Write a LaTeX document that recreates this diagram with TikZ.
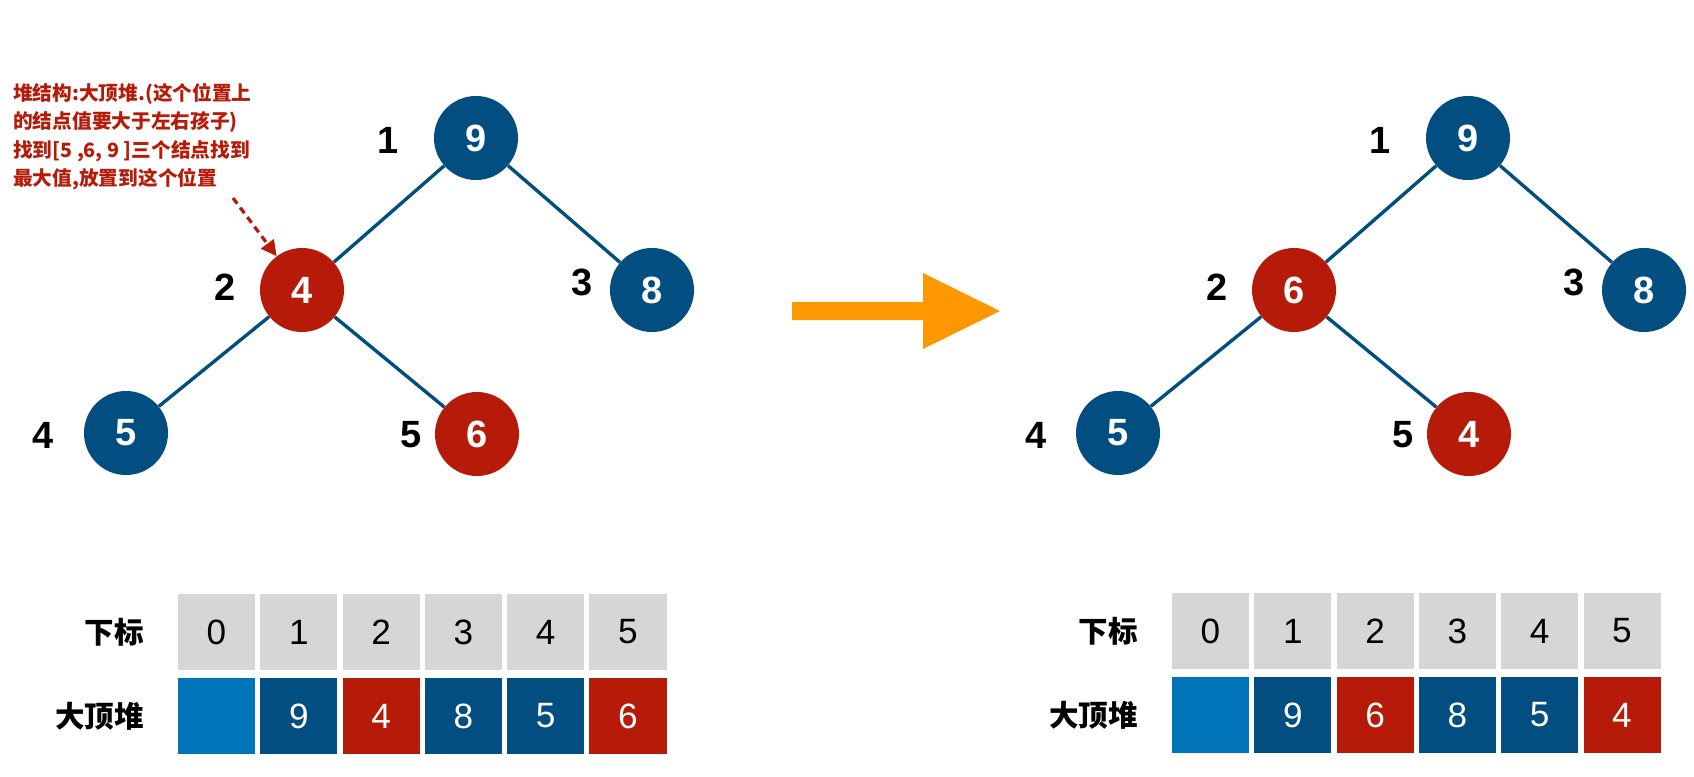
\documentclass[tikz,border=0pt]{standalone}
\usepackage{fontspec}
\setmainfont{Liberation Sans}
\newfontfamily\cjk{Noto Sans CJK SC}
\usepackage{tikz}
\usetikzlibrary{arrows.meta}
\definecolor{heapblue}{RGB}{2,78,128}
\definecolor{heapred}{RGB}{182,27,10}
\definecolor{slotblue}{RGB}{0,117,186}
\definecolor{slotgray}{RGB}{214,214,214}
\definecolor{swaporange}{RGB}{255,152,0}
\tikzset{
  heap node/.style={
    circle,
    fill=heapblue,
    minimum size=2.1cm,
    inner sep=0pt,
    text=white,
    font=\fontsize{27}{27}\selectfont\bfseries
  },
  heap swap/.style={
    heap node,
    fill=heapred
  },
  heap index/.style={
    inner sep=0pt,
    font=\fontsize{27}{27}\selectfont\bfseries
  },
  tree edge/.style={
    draw=heapblue,
    line width=2.4pt
  },
  idx cell/.style={
    fill=slotgray,
    minimum width=1.925cm,
    minimum height=1.9cm,
    inner sep=0pt,
    font=\fontsize{25}{25}\selectfont
  },
  val cell/.style={
    idx cell,
    text=white
  },
  row label/.style={
    anchor=east,
    inner sep=0pt,
    font=\cjk\bfseries\fontsize{21}{21}\selectfont
  },
  note arrow/.style={
    draw=heapred,
    line width=2.3pt,
    dash pattern=on 5pt off 3.5pt,
    -{Triangle[length=11pt,width=11pt]}
  }
}

\begin{document}
\begin{tikzpicture}[x=0.025cm, y=-0.025cm]
  \useasboundingbox (0,0) rectangle (1694,776);

  % Note
  \node[anchor=north west, inner sep=0pt, align=left, text=heapred,
        font=\cjk\bfseries\fontsize{14}{20.2}\selectfont] (note) at (13,83)
    {堆结构:大顶堆.(这个位置上\\的结点值要大于左右孩子)\\找到[5 ,6, 9 ]三个结点找到\\最大值,放置到这个位置};

  % Left tree
  \node[heap node] (left1) at (476,138) {9};
  \node[heap swap] (left2) at (302,290) {4};
  \node[heap node] (left3) at (652,290) {8};
  \node[heap node] (left4) at (126,433) {5};
  \node[heap swap] (left5) at (477,434) {6};
  \draw[tree edge] (left1) -- (left2);
  \draw[tree edge] (left1) -- (left3);
  \draw[tree edge] (left2) -- (left4);
  \draw[tree edge] (left2) -- (left5);
  \node[heap index] (lidx1) at (388,140) {1};
  \node[heap index] (lidx2) at (225,287) {2};
  \node[heap index] (lidx3) at (582,282) {3};
  \node[heap index] (lidx4) at (43,435) {4};
  \node[heap index] (lidx5) at (411,435) {5};

  % Note pointer
  \coordinate (note end) at (233,198);
  \draw[note arrow] (note end) -- (left2);

  % Swap arrow
  \fill[swaporange] (792,302) -- (923,302) -- (923,273) -- (1000,311)
    -- (923,349) -- (923,320) -- (792,320) -- cycle;

  % Right tree
  \node[heap node] (right1) at (1468,138) {9};
  \node[heap swap] (right2) at (1294,290) {6};
  \node[heap node] (right3) at (1644,290) {8};
  \node[heap node] (right4) at (1118,433) {5};
  \node[heap swap] (right5) at (1469,434) {4};
  \draw[tree edge] (right1) -- (right2);
  \draw[tree edge] (right1) -- (right3);
  \draw[tree edge] (right2) -- (right4);
  \draw[tree edge] (right2) -- (right5);
  \node[heap index] (ridx1) at (1380,140) {1};
  \node[heap index] (ridx2) at (1217,287) {2};
  \node[heap index] (ridx3) at (1574,282) {3};
  \node[heap index] (ridx4) at (1036,435) {4};
  \node[heap index] (ridx5) at (1403,435) {5};

  % Left table
  \node[row label] (lsub) at (144,632) {下标};
  \node[row label] (lheap) at (144,716) {大顶堆};
  \foreach \v/\c [count=\i from 0] in {{}/slotblue, 9/heapblue, 4/heapred, 8/heapblue, 5/heapblue, 6/heapred} {
    \node[idx cell] (lcell\i) at ({216.5+82.3*\i},632) {\i};
    \node[val cell, fill=\c] (lval\i) at ({216.5+82.3*\i},716) {\v};
  }

  % Right table
  \node[row label] (rsub) at (1138,631) {下标};
  \node[row label] (rheap) at (1138,715) {大顶堆};
  \foreach \v/\c [count=\i from 0] in {{}/slotblue, 9/heapblue, 6/heapred, 8/heapblue, 5/heapblue, 4/heapred} {
    \node[idx cell] (rcell\i) at ({1210.5+82.3*\i},631) {\i};
    \node[val cell, fill=\c] (rval\i) at ({1210.5+82.3*\i},715) {\v};
  }
\end{tikzpicture}
\end{document}
